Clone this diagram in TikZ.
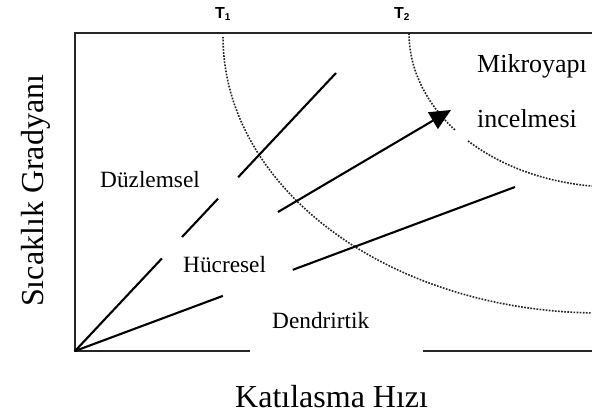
\documentclass[tikz,border=0pt]{standalone}
\usepackage{fontspec}
\setmainfont{Liberation Serif}
\setsansfont{Liberation Sans}
\usetikzlibrary{calc,arrows.meta}
\newcommand{\tsub}[1]{\raisebox{-0.3ex}{\fontsize{10}{11}\selectfont #1}}
\tikzset{
  x=1pt,y=-1pt,
  frameline/.style={line width=2.1pt,black!85},
  regline/.style={line width=2.1pt,black},
  isoline/.style={line width=1.6pt,black!85,dash pattern=on 1.7pt off 1.4pt},
  lab/.style={inner sep=0pt,anchor=base west,font=\fontsize{23.3}{28}\selectfont},
  biglab/.style={inner sep=0pt,anchor=base west,font=\fontsize{26}{30}\selectfont},
  axlab/.style={inner sep=0pt,anchor=base west,font=\fontsize{32}{36}\selectfont},
  tlab/.style={inner sep=0pt,anchor=base west,font=\fontsize{16}{18}\selectfont\sffamily\bfseries},
}
\begin{document}
\begin{tikzpicture}
\useasboundingbox (0,0) rectangle (592,415);
\clip (0,0) rectangle (592,415);
% frame
\coordinate (O) at (75,351);
\coordinate (TL) at (75,33);
\coordinate (TR) at (600,33);
\coordinate (B1) at (250,351);
\coordinate (B2) at (423,351);
\coordinate (BR) at (600,351);
\draw[frameline] (B1) -- (O) -- (TL) -- (TR);
\draw[frameline] (B2) -- (BR);
% isotherms
\draw[isoline] plot[domain=90:180,samples=80,variable=\t] ({600+377*cos(\t)},{37+276*sin(\t)});
\draw[isoline] plot[domain=90:135.9,samples=50,variable=\t] ({615+206*cos(\t)},{33+154*sin(\t)});
\draw[isoline] plot[domain=141:180,samples=40,variable=\t] ({615+206*cos(\t)},{33+154*sin(\t)});
% boundary lines
\coordinate (A) at (336,73);
\coordinate (C) at (515,187);
\draw[regline] (O) -- ($(O)!0.333!(A)$);
\draw[regline] ($(O)!0.410!(A)$) -- ($(O)!0.548!(A)$);
\draw[regline] ($(O)!0.625!(A)$) -- (A);
\draw[regline] (O) -- ($(O)!0.336!(C)$);
\draw[regline] ($(O)!0.495!(C)$) -- (C);
% arrow
\coordinate (S) at (278,212);
\coordinate (E) at (451,110);
\draw[regline,-{Triangle[length=21pt,width=19pt]}] (S) -- (E);
% labels
\node[tlab] (t1) at (215,18) {T\tsub{1}};
\node[tlab] (t2) at (394,18) {T\tsub{2}};
\node[biglab] (mk) at (477,72) {Mikroyapı};
\node[biglab] (inc) at (477,127) {incelmesi};
\node[lab] (dz) at (100,187) {Düzlemsel};
\node[lab] (hc) at (183,272) {Hücresel};
\node[lab] (dd) at (272,328) {Dendrirtik};
\node[axlab] (xl) at (235,407) {Katılasma Hızı};
\node[axlab,rotate=90] (yl) at (43,307) {Sıcaklık Gradyanı};
\end{tikzpicture}
\end{document}
